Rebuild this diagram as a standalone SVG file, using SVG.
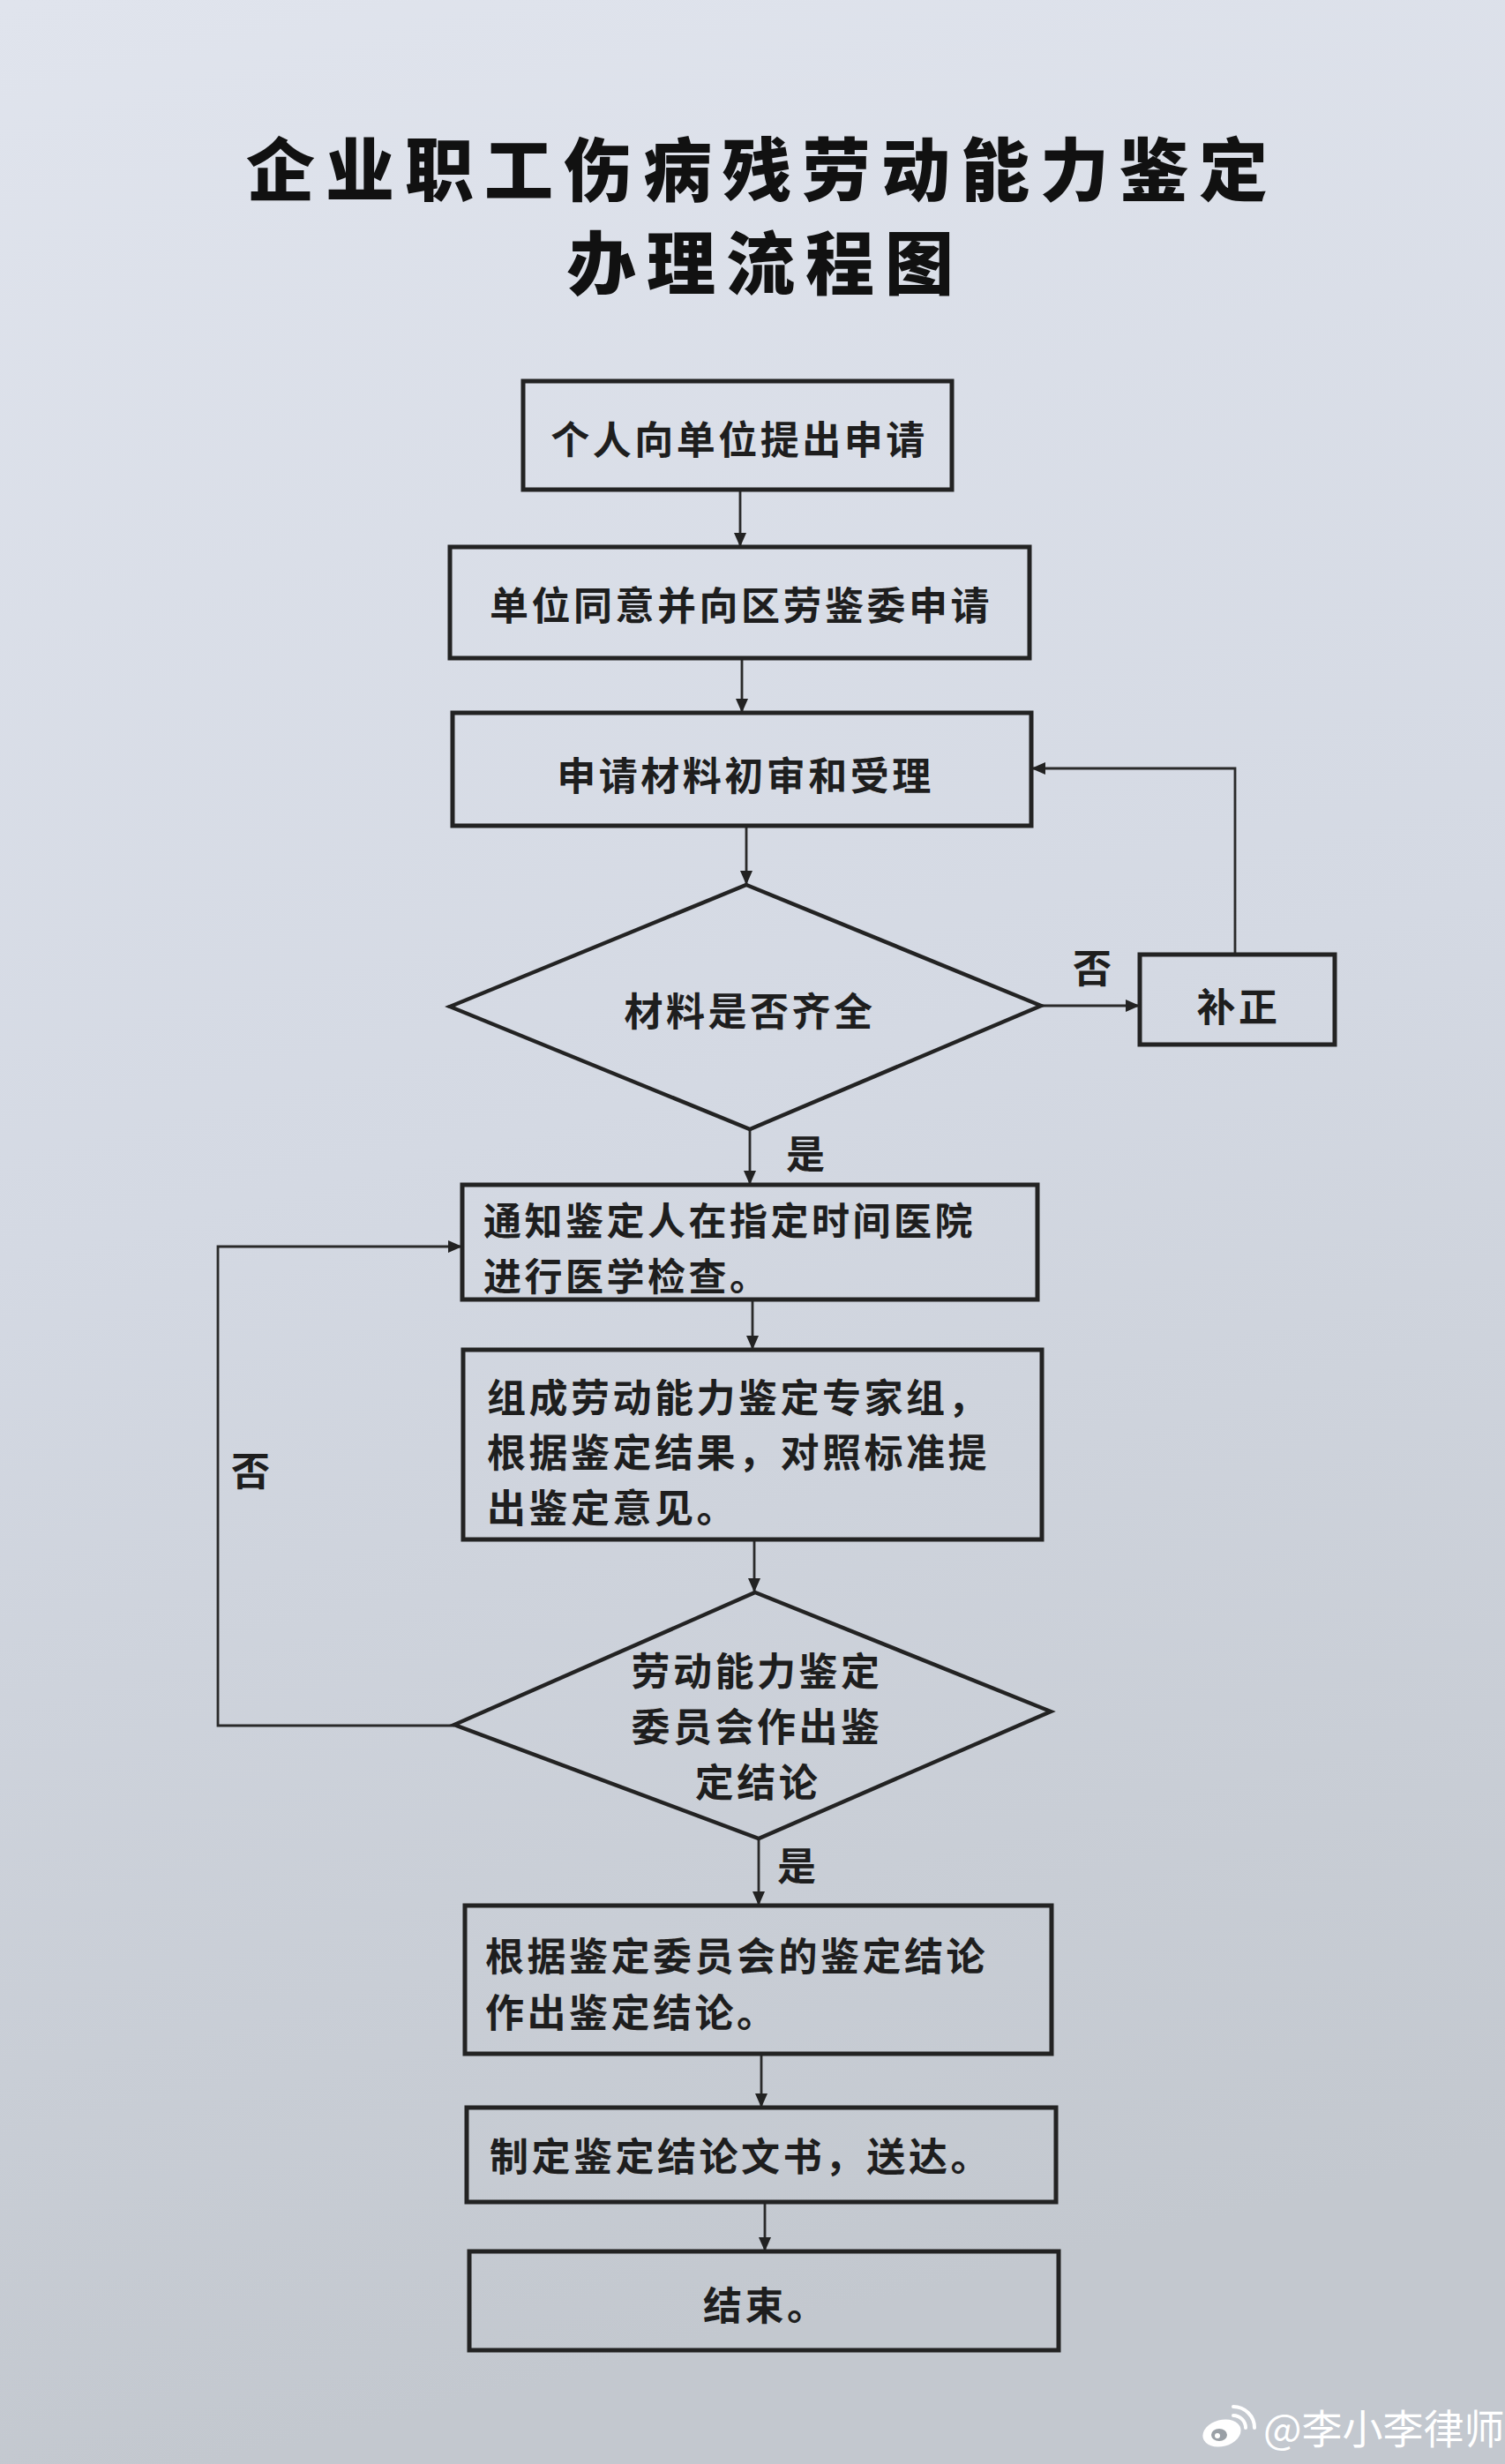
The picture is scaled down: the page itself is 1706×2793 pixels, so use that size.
<svg xmlns="http://www.w3.org/2000/svg" width="1706" height="2793" viewBox="0 0 1706 2793">
<defs>
<linearGradient id="bg" x1="0" y1="0" x2="0.15" y2="1">
<stop offset="0" stop-color="#e0e4ed"/>
<stop offset="0.5" stop-color="#d4d9e3"/>
<stop offset="1" stop-color="#c3c8cf"/>
</linearGradient>
<marker id="arr" viewBox="0 0 16 14" refX="16" refY="7" markerWidth="16" markerHeight="14" markerUnits="userSpaceOnUse" orient="auto">
<path d="M0,0 L16,7 L0,14 Z" fill="#222"/>
</marker>
<style>
.box{fill:none;stroke:#232323;stroke-width:5}
.dia{fill:none;stroke:#232323;stroke-width:4.5}
.con{fill:none;stroke:#2a2a2a;stroke-width:2.8;marker-end:url(#arr)}
.t{font-family:"Noto Sans CJK SC","Noto Sans CJK TC",sans-serif;font-size:44px;font-weight:700;fill:#1e1e1e;letter-spacing:3.5px}
.s{font-size:43px}
.c{text-anchor:middle}
.title{font-family:"Noto Sans CJK SC",sans-serif;font-size:78px;font-weight:900;fill:#111;text-anchor:middle;letter-spacing:12px}
.wm{font-family:"Noto Sans CJK SC",sans-serif;font-size:46px;font-weight:400;fill:#ffffff}
</style>
</defs>
<rect x="0" y="0" width="1706" height="2793" fill="url(#bg)"/>

<g id="title">
<text class="title" x="864" y="222">企业职工伤病残劳动能力鉴定</text>
<text class="title" x="868" y="328">办理流程图</text>
</g>

<g id="connectors">
<path class="con" d="M839,555 L839,620"/>
<path class="con" d="M841,746 L841,808"/>
<path class="con" d="M846,936 L846,1003"/>
<path class="con" d="M1180,1140 L1292,1140"/>
<path class="con" d="M1400,1082 L1400,871 L1169,871"/>
<path class="con" d="M850,1280 L850,1343"/>
<path class="con" d="M853,1473 L853,1530"/>
<path class="con" d="M855,1745 L855,1805"/>
<path class="con" d="M515,1956 L247,1956 L247,1413 L524,1413"/>
<path class="con" d="M860,2084 L860,2160"/>
<path class="con" d="M863,2328 L863,2389"/>
<path class="con" d="M867,2496 L867,2552"/>
<text class="t" x="1216" y="1114">否</text>
<text class="t" x="891" y="1325">是</text>
<text class="t" x="262" y="1684">否</text>
<text class="t" x="881" y="2132">是</text>
</g>

<g id="n1">
<rect class="box" x="593" y="432" width="486" height="123"/>
<text class="t c" x="838" y="515">个人向单位提出申请</text>
</g>
<g id="n2">
<rect class="box" x="510" y="620" width="657" height="126"/>
<text class="t c" x="840" y="703">单位同意并向区劳鉴委申请</text>
</g>
<g id="n3">
<rect class="box" x="513" y="808" width="656" height="128"/>
<text class="t c" x="845" y="896">申请材料初审和受理</text>
</g>
<g id="d1">
<polygon class="dia" points="846,1003 1180,1140 850,1280 510,1141"/>
<text class="t c" x="850" y="1163">材料是否齐全</text>
</g>
<g id="n_fix">
<rect class="box" x="1292" y="1082" width="221" height="102"/>
<text class="t c" x="1404" y="1158">补正</text>
</g>
<g id="n4">
<rect class="box" x="524" y="1343" width="652" height="130"/>
<text class="t s" x="548" y="1400">通知鉴定人在指定时间医院</text>
<text class="t s" x="548" y="1463">进行医学检查。</text>
</g>
<g id="n5">
<rect class="box" x="525" y="1530" width="656" height="215"/>
<text class="t" x="552" y="1601">组成劳动能力鉴定专家组，</text>
<text class="t" x="552" y="1663">根据鉴定结果，对照标准提</text>
<text class="t" x="552" y="1726">出鉴定意见。</text>
</g>
<g id="d2">
<polygon class="dia" points="856,1805 1191,1940 860,2084 515,1955"/>
<text class="t c" x="858" y="1911">劳动能力鉴定</text>
<text class="t c" x="858" y="1974">委员会作出鉴</text>
<text class="t c" x="859" y="2037">定结论</text>
</g>
<g id="n6">
<rect class="box" x="527" y="2160" width="665" height="168"/>
<text class="t" x="550" y="2234">根据鉴定委员会的鉴定结论</text>
<text class="t" x="550" y="2298">作出鉴定结论。</text>
</g>
<g id="n7">
<rect class="box" x="529" y="2389" width="668" height="107"/>
<text class="t" x="555" y="2461">制定鉴定结论文书，送达。</text>
</g>
<g id="n8">
<rect class="box" x="532" y="2552" width="668" height="112"/>
<text class="t" x="797" y="2630">结束。</text>
</g>

<g id="watermark">
<ellipse cx="1385" cy="2758" rx="22" ry="15" fill="#ffffff" transform="rotate(-15 1385 2758)"/>
<ellipse cx="1382" cy="2760" rx="9" ry="7" fill="#9aa0a6"/>
<circle cx="1380" cy="2761" r="3" fill="#ffffff"/>
<path d="M1398,2738 a14,14 0 0 1 14,14" fill="none" stroke="#ffffff" stroke-width="4" stroke-linecap="round"/>
<path d="M1398,2728 a24,24 0 0 1 24,24" fill="none" stroke="#ffffff" stroke-width="4" stroke-linecap="round"/>
<text class="wm" x="1432" y="2770">@李小李律师</text>
</g>
</svg>
